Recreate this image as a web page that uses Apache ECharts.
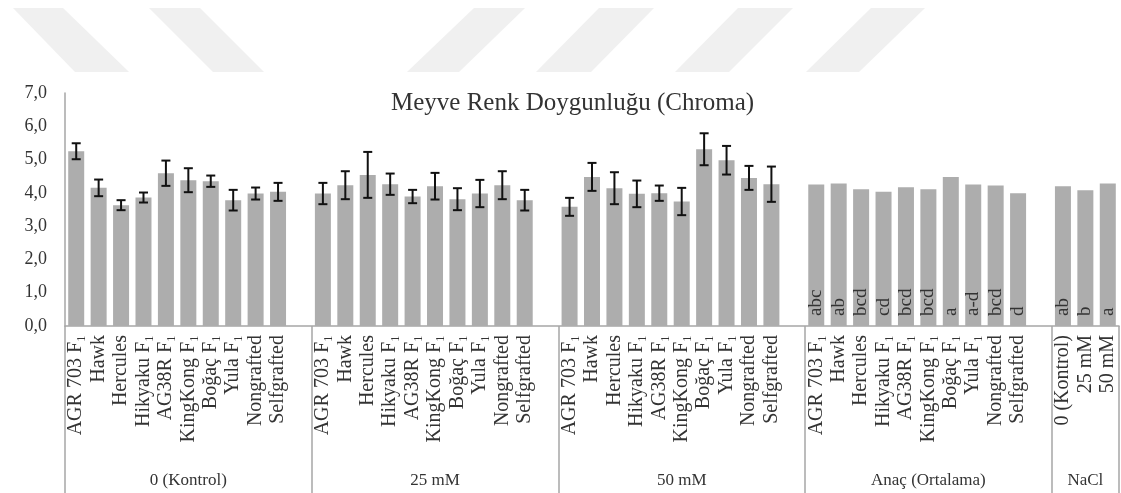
<!DOCTYPE html>
<html>
<head>
<meta charset="utf-8">
<script src="https://cdn.jsdelivr.net/npm/echarts@6/dist/echarts.min.js"></script>
<style>
html,body{margin:0;padding:0;background:#fff;}
#chart{width:1121px;height:493px;}
</style>
</head>
<body>
<div id="chart"></div>
<script>
// ---- Data ----
const titleText = 'Meyve Renk Doygunluğu (Chroma)';
const groupNames = ['0 (Kontrol)', '25 mM', '50 mM', 'Anaç (Ortalama)', 'NaCl'];
const rootstocks = ['AGR 703 F₁', 'Hawk', 'Hercules', 'Hikyaku F₁', 'AG38R F₁', 'KingKong F₁', 'Boğaç F₁', 'Yula F₁', 'Nongrafted', 'Selfgrafted'];
const naclLevels = ['0 (Kontrol)', '25 mM', '50 mM'];

const kontrolValues = [5.25, 4.15, 3.63, 3.86, 4.59, 4.38, 4.35, 3.78, 3.98, 4.03];
const kontrolErr    = [0.24, 0.25, 0.15, 0.15, 0.38, 0.36, 0.17, 0.31, 0.18, 0.27];
const mm25Values    = [3.98, 4.23, 4.54, 4.26, 3.89, 4.20, 3.81, 3.98, 4.23, 3.78];
const mm25Err       = [0.32, 0.42, 0.69, 0.32, 0.20, 0.40, 0.33, 0.41, 0.42, 0.31];
const mm50Values    = [3.58, 4.48, 4.14, 3.97, 3.99, 3.74, 5.31, 4.98, 4.45, 4.26];
const mm50Err       = [0.27, 0.42, 0.48, 0.40, 0.23, 0.41, 0.48, 0.43, 0.36, 0.53];
const anacValues    = [4.25, 4.28, 4.11, 4.03, 4.17, 4.11, 4.48, 4.25, 4.22, 3.99];
const anacLetters   = ['abc', 'ab', 'bcd', 'cd', 'bcd', 'bcd', 'a', 'a-d', 'bcd', 'd'];
const naclValues    = [4.20, 4.08, 4.28];
const naclLetters   = ['ab', 'b', 'a'];

const yTicks = [0, 1, 2, 3, 4, 5, 6, 7];

// ---- Build flat category axis (groups separated by one empty slot) ----
const categories = [], values = [], errs = [], letters = [], groupLabelRow = [], boundaries = [];
function addGroup(name, cats, vals, errArr, letArr, gap) {
  const start = categories.length;
  boundaries.push(start);
  cats.forEach((c, i) => {
    categories.push(c);
    values.push(vals[i]);
    errs.push(errArr ? errArr[i] : null);
    letters.push(letArr ? letArr[i] : '');
    groupLabelRow.push('');
  });
  if (gap) {
    categories.push('');
    values.push('-');
    errs.push(null);
    letters.push('');
    groupLabelRow.push('');
  }
  const span = categories.length - start;
  groupLabelRow[start + Math.floor(span / 2)] = name;
}
addGroup(groupNames[0], rootstocks, kontrolValues, kontrolErr, null, true);
addGroup(groupNames[1], rootstocks, mm25Values, mm25Err, null, true);
addGroup(groupNames[2], rootstocks, mm50Values, mm50Err, null, true);
addGroup(groupNames[3], rootstocks, anacValues, null, anacLetters, true);
addGroup(groupNames[4], naclLevels, naclValues, null, naclLetters, false);

const errData = [];
values.forEach((v, i) => {
  if (errs[i] != null) errData.push([i, v - errs[i], v + errs[i]]);
});

const FONT = 'Liberation Serif';
const TXT = '#333333';
const AXIS = '#a6a6a6';

const chart = echarts.init(document.getElementById('chart'), null, {renderer: 'canvas'});

// decorative background watermark (parallelograms)
const wm = [
  [[13,8],[63,8],[129,72],[75,72]],
  [[149,8],[200,8],[264,72],[213,72]],
  [[474,8],[525,8],[459,72],[407,72]],
  [[599,8],[654,8],[591,72],[536,72]],
  [[738,8],[793,8],[729,72],[675,72]],
  [[871,8],[925,8],[859,72],[806,72]]
];

chart.setOption({
  animation: false,
  backgroundColor: '#fff',
  graphic: wm.map(pts => ({type: 'polygon', z: -10, silent: true, shape: {points: pts}, style: {fill: '#f0f0f0'}})),
  title: {
    text: titleText,
    left: 386, top: 86,
    textStyle: {fontFamily: FONT, fontWeight: 'normal', fontSize: 25, color: TXT}
  },
  grid: {left: 65, right: 2, top: 93, bottom: 167, containLabel: false},
  xAxis: [{
    type: 'category',
    data: categories,
    axisLine: {show: true, lineStyle: {color: AXIS, width: 1.5}},
    axisTick: {show: true, interval: (idx) => boundaries.indexOf(idx) >= 0, length: 170, lineStyle: {color: AXIS, width: 1.5}},
    axisLabel: {interval: 0, rotate: 90, margin: 9, fontFamily: FONT, fontSize: 20, color: TXT}
  }, {
    type: 'category',
    data: groupLabelRow,
    position: 'bottom',
    offset: 138,
    axisLine: {show: false},
    axisTick: {show: false},
    axisLabel: {interval: 0, margin: 8, fontFamily: FONT, fontSize: 17, color: TXT}
  }],
  yAxis: {
    type: 'value',
    min: yTicks[0], max: yTicks[yTicks.length - 1], interval: 1,
    axisLine: {show: true, lineStyle: {color: AXIS, width: 1.5}},
    axisTick: {show: false},
    splitLine: {show: false},
    axisLabel: {margin: 18, fontFamily: FONT, fontSize: 18, color: TXT, formatter: v => v.toFixed(1).replace('.', ',')}
  },
  series: [{
    type: 'bar',
    data: values,
    barWidth: 16,
    itemStyle: {color: '#adadad'},
    label: {
      show: true,
      position: 'insideBottom',
      distance: 10,
      rotate: 90,
      align: 'left',
      verticalAlign: 'middle',
      fontFamily: FONT, fontSize: 19, color: TXT,
      formatter: p => letters[p.dataIndex] || ''
    }
  }, {
    type: 'custom',
    data: errData,
    encode: {x: 0, y: [1, 2]},
    z: 5,
    renderItem: function (params, api) {
      const x = api.value(0);
      const lo = api.coord([x, api.value(1)]);
      const hi = api.coord([x, api.value(2)]);
      const hw = 4.5;
      const st = {stroke: '#111', lineWidth: 2};
      return {type: 'group', children: [
        {type: 'line', shape: {x1: hi[0], y1: hi[1], x2: lo[0], y2: lo[1]}, style: st},
        {type: 'line', shape: {x1: hi[0] - hw, y1: hi[1], x2: hi[0] + hw, y2: hi[1]}, style: st},
        {type: 'line', shape: {x1: lo[0] - hw, y1: lo[1], x2: lo[0] + hw, y2: lo[1]}, style: st}
      ]};
    }
  }]
});
</script>
</body>
</html>
